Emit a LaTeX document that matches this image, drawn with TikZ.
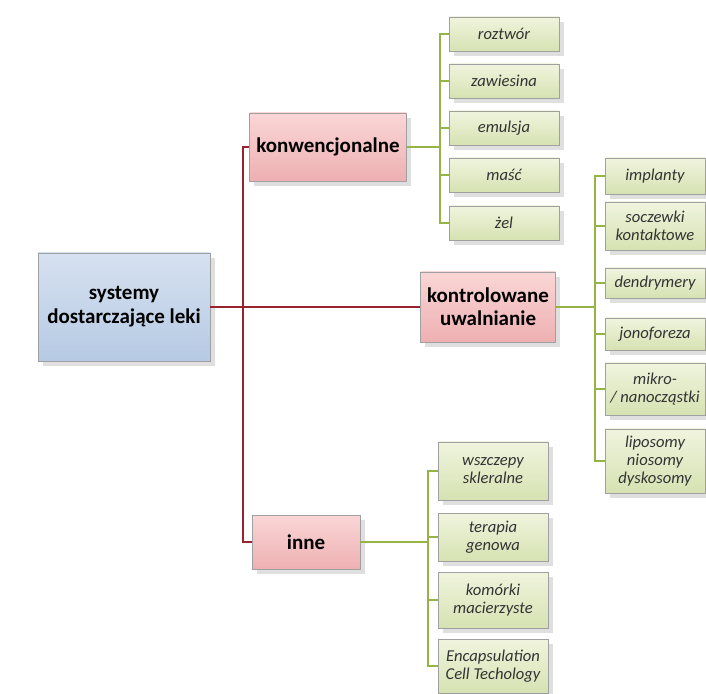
\documentclass[tikz,border=0pt]{standalone}
\usepackage{fontspec}
\setmainfont{Carlito}
\usetikzlibrary{shadows}

\definecolor{rootA}{RGB}{214,225,240}
\definecolor{rootB}{RGB}{182,202,228}
\definecolor{pinkA}{RGB}{250,214,214}
\definecolor{pinkB}{RGB}{238,176,178}
\definecolor{leafA}{RGB}{240,244,222}
\definecolor{leafB}{RGB}{214,226,178}
\definecolor{boxline}{RGB}{160,160,160}
\definecolor{redln}{RGB}{150,35,45}
\definecolor{greenln}{RGB}{150,180,70}

\tikzset{
    rootbox/.style={draw=boxline, top color=rootA, bottom color=rootB, align=center,
        font=\fontsize{10.5}{12}\selectfont\bfseries, drop shadow={opacity=0.25}},
    mainbox/.style={draw=boxline, top color=pinkA, bottom color=pinkB, align=center,
        font=\fontsize{10.5}{11.5}\selectfont\bfseries, drop shadow={opacity=0.25}},
    leafbox/.style={draw=boxline, top color=leafA, bottom color=leafB, align=center,
        font=\fontsize{8.3}{9}\selectfont\itshape, text=black!80, drop shadow={opacity=0.25},
        minimum width=55pt, inner sep=1pt},
    redline/.style={draw=redln, line width=0.9pt},
    greenline/.style={draw=greenln, line width=0.9pt}
}

\begin{document}
\begin{tikzpicture}[x=0.5pt, y=-0.5pt]
    \useasboundingbox (0,0) rectangle (706,694);
    % main level
    \node[rootbox, minimum width=86pt, minimum height=54pt] (root) at (124,307) {systemy\\dostarczające leki};
    \node[mainbox, minimum width=75pt, minimum height=34pt] (konw) at (328,147) {konwencjonalne};
    \node[mainbox, minimum width=65pt, minimum height=35pt] (kontr) at (488,307) {kontrolowane\\uwalnianie};
    \node[mainbox, minimum width=54pt, minimum height=27pt] (inne) at (306,542) {inne};
    % konwencjonalne
    \node[leafbox, minimum height=17pt] (k1) at (504,34) {roztwór};
    \node[leafbox, minimum height=17pt] (k2) at (504,81) {zawiesina};
    \node[leafbox, minimum height=17pt] (k3) at (504,128) {emulsja};
    \node[leafbox, minimum height=17pt] (k4) at (504,175) {maść};
    \node[leafbox, minimum height=17pt] (k5) at (504,223) {żel};
    % kontrolowane uwalnianie
    \node[leafbox, minimum width=50pt, minimum height=18pt] (c1) at (655,176) {implanty};
    \node[leafbox, minimum width=50pt, minimum height=24pt] (c2) at (655,226) {soczewki\\kontaktowe};
    \node[leafbox, minimum width=50pt, minimum height=15pt] (c3) at (655,283) {dendrymery};
    \node[leafbox, minimum width=50pt, minimum height=16pt] (c4) at (655,334) {jonoforeza};
    \node[leafbox, minimum width=50pt, minimum height=26pt] (c5) at (655,389) {mikro-\\/ nanocząstki};
    \node[leafbox, minimum width=50pt, minimum height=32pt] (c6) at (655,461) {liposomy\\niosomy\\dyskosomy};
    % inne
    \node[leafbox, minimum height=29pt] (i1) at (493,471) {wszczepy\\skleralne};
    \node[leafbox, minimum height=24pt] (i2) at (493,537) {terapia\\genowa};
    \node[leafbox, minimum height=28pt] (i3) at (493,600) {komórki\\macierzyste};
    \node[leafbox, minimum height=27pt] (i4) at (493,666) {Encapsulation\\Cell Techology};
    % buses
    \coordinate (rbus) at (243,307);
    \coordinate (kbus) at (440,147);
    \coordinate (cbus) at (595,307);
    \coordinate (ibus) at (428,542);
    % red connectors
    \draw[redline] (root) -- (kontr);
    \draw[redline] (konw.west) -| (rbus) |- (inne.west);
    % green connectors
    \foreach \n in {k1,k2,k3,k4,k5}
        \draw[greenline] (konw.east) -- (kbus) |- (\n.west);
    \foreach \n in {c1,c2,c3,c4,c5,c6}
        \draw[greenline] (kontr.east) -- (cbus) |- (\n.west);
    \foreach \n in {i1,i2,i3,i4}
        \draw[greenline] (inne.east) -- (ibus) |- (\n.west);
\end{tikzpicture}
\end{document}
